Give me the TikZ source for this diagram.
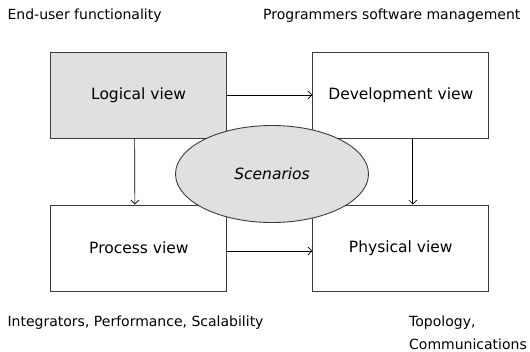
\documentclass[tikz,border=0pt]{standalone}
\usepackage{fontspec}
\setmainfont{DejaVu Sans}
\usetikzlibrary{shapes.geometric,arrows.meta}
\definecolor{viewgray}{RGB}{224,224,224}
\definecolor{linegray}{RGB}{60,60,60}
\tikzset{
	viewbox/.style={draw=linegray,line width=0.9pt,minimum width=176pt,minimum height=86pt,inner sep=0pt},
	viewarrow/.style={-{Straight Barb[length=4pt,width=8pt]},draw=black,line width=0.7pt},
	sidelabel/.style={anchor=base west,inner sep=0pt,font=\fontsize{14}{17}\selectfont}
}
\begin{document}
\begin{tikzpicture}[x=1pt,y=-1pt]
			\newcommand{\myfontview}[1]{
				\fontsize{15.5}{18}\selectfont{#1}
			}%Canvas
			\useasboundingbox (0,0) rectangle (530,351);
			%Centres of the four views
			\coordinate (cLogical) at (138.6,95);
			\coordinate (cDevelopment) at (400.8,95);
			\coordinate (cProcess) at (138.9,248);
			\coordinate (cPhysical) at (400.8,248);
			\coordinate (cScenarios) at (272,174);
			%The four views
			\node [viewbox,fill=viewgray] (logical) at (cLogical) {\myfontview{Logical view}};
			\node [viewbox] (development) at (cDevelopment) {\myfontview{Development view}};
			\node [viewbox] (process) at (cProcess) {\myfontview{Process view}};
			\node [viewbox] (physical) at (cPhysical) {\myfontview{Physical view}};
			%Arrows between the views
			\draw [viewarrow] (logical) -- (development);
			\draw [viewarrow] ([xshift=-4pt]logical.south) -- ([xshift=-4pt]process.north);
			\draw [viewarrow] ([xshift=12pt]development.south) -- ([xshift=12pt]physical.north);
			\draw [viewarrow] ([yshift=-3pt]process.east) -- ([yshift=-3pt]physical.west);
			%Scenarios in the middle
			\node [ellipse,draw=linegray,line width=0.9pt,fill=viewgray,minimum width=193pt,minimum height=97pt] (scenarios) at (cScenarios) {\myfontview{\itshape Scenarios}};
			%Labels round the views
			\node [sidelabel] (enduser) at (7.4,19.6) {End-user functionality};
			\node [sidelabel] (programmers) at (263,19.6) {Programmers software management};
			\node [sidelabel] (integrators) at (7.4,326) {Integrators, Performance, Scalability};
			\node [sidelabel] (topology) at (409,326) {Topology,};
			\node [sidelabel] (communications) at (409,349) {Communications};
\end{tikzpicture}
\end{document}
